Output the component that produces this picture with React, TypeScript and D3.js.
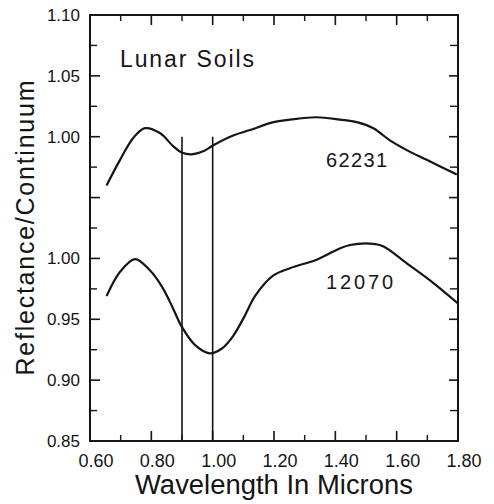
import React from "react";
import * as d3 from "d3";

// Sample 62231 (upper curve, plotted with +0.10 offset)
const wl62231 = [0.654, 0.698, 0.741, 0.779, 0.828, 0.872, 0.899, 0.932, 0.969, 1.002, 1.067, 1.122, 1.198, 1.252, 1.339, 1.415, 1.47, 1.524, 1.578, 1.633, 1.698, 1.796];
const refl62231 = [0.96, 0.981, 0.999, 1.007, 1.003, 0.992, 0.987, 0.9855, 0.988, 0.993, 1.001, 1.0055, 1.012, 1.014, 1.016, 1.014, 1.012, 1.007, 0.997, 0.989, 0.981, 0.969];
const offset62231 = 0.1;

// Sample 12070 (lower curve)
const wl12070 = [0.654, 0.698, 0.747, 0.796, 0.834, 0.867, 0.899, 0.942, 0.991, 1.03, 1.066, 1.105, 1.138, 1.198, 1.252, 1.339, 1.404, 1.448, 1.524, 1.556, 1.633, 1.719, 1.8];
const refl12070 = [0.969, 0.989, 0.9995, 0.99, 0.977, 0.961, 0.944, 0.929, 0.922, 0.926, 0.936, 0.953, 0.969, 0.986, 0.992, 0.999, 1.007, 1.011, 1.012, 1.01, 0.996, 0.98, 0.963];

// Band markers
const bandLines = [0.9, 1.0];

// Axis ticks
const xTickValues = [0.6, 0.8, 1.0, 1.2, 1.4, 1.6, 1.8];
const xTickLabels = ["0.60", "0.80", "1.00", "1.20", "1.40", "1.60", "1.80"];
const xMinorTicks = [0.7, 0.9, 1.1, 1.3, 1.5, 1.7];
const yTickValues = [0.85, 0.9, 0.95, 1.0, 1.05, 1.1, 1.15, 1.2];
const yTickLabels = ["0.85", "0.90", "0.95", "1.00", "", "1.00", "1.05", "1.10"];
const yMinorTicks = [0.875, 0.925, 0.975, 1.025, 1.075, 1.125, 1.175];

const W = 494;
const H = 504;
const L = 90, R = 458, T = 15, B = 441;
const ink = "#151515";
const font = "'Liberation Sans', Arial, Helvetica, sans-serif";

export default function App() {
  const x = d3.scaleLinear().domain([0.6, 1.8]).range([L, R]);
  const y = d3.scaleLinear().domain([0.85, 1.2]).range([B, T]);
  const line = d3
    .line<[number, number]>()
    .x((d) => x(d[0]))
    .y((d) => y(d[1]))
    .curve(d3.curveCatmullRom.alpha(0.5));

  const upper = line(wl62231.map((w, i) => [w, refl62231[i] + offset62231] as [number, number])) || "";
  const lower = line(wl12070.map((w, i) => [w, refl12070[i]] as [number, number])) || "";

  return (
    <svg
      width={W}
      height={H}
      viewBox={`0 0 ${W} ${H}`}
      style={{ position: "absolute", left: 0, top: 0, background: "#fff" }}
    >
      <rect x={0} y={0} width={W} height={H} fill="#fff" />
      {/* frame */}
      <rect x={L} y={T} width={R - L} height={B - T} fill="none" stroke={ink} strokeWidth={2} />

      {/* y ticks left & right */}
      {yTickValues.map((v, i) => (
        <g key={"yt" + i}>
          <line x1={L} x2={L + 10} y1={y(v)} y2={y(v)} stroke={ink} strokeWidth={1.6} />
          <line x1={R} x2={R - 9} y1={y(v)} y2={y(v)} stroke={ink} strokeWidth={1.6} />
          <text
            x={80}
            y={y(v)}
            dy="0.35em"
            textAnchor="end"
            fontFamily={font}
            fontSize={17}
            fill={ink}
          >
            {yTickLabels[i]}
          </text>
        </g>
      ))}
      {yMinorTicks.map((v, i) => (
        <g key={"ym" + i}>
          <line x1={L} x2={L + 7} y1={y(v)} y2={y(v)} stroke={ink} strokeWidth={1.4} />
          <line x1={R} x2={R - 8} y1={y(v)} y2={y(v)} stroke={ink} strokeWidth={1.4} />
        </g>
      ))}

      {/* x ticks bottom & top */}
      {xTickValues.map((v, i) => (
        <g key={"xt" + i}>
          <line x1={x(v)} x2={x(v)} y1={B} y2={B - 10} stroke={ink} strokeWidth={1.6} />
          <line x1={x(v)} x2={x(v)} y1={T} y2={T + 10} stroke={ink} strokeWidth={1.6} />
          <text
            x={x(v) + 6}
            y={467}
            textAnchor="middle"
            fontFamily={font}
            fontSize={18}
            fill={ink}
          >
            {xTickLabels[i]}
          </text>
        </g>
      ))}
      {xMinorTicks.map((v, i) => (
        <g key={"xm" + i}>
          <line x1={x(v)} x2={x(v)} y1={B} y2={B - 6} stroke={ink} strokeWidth={1.4} />
          <line x1={x(v)} x2={x(v)} y1={T} y2={T + 6} stroke={ink} strokeWidth={1.4} />
        </g>
      ))}

      {/* band lines */}
      {bandLines.map((v, i) => (
        <line
          key={"bl" + i}
          x1={x(v)}
          x2={x(v)}
          y1={y(1.1)}
          y2={B}
          stroke={ink}
          strokeWidth={1.6}
        />
      ))}

      {/* curves */}
      <path d={upper} fill="none" stroke={ink} strokeWidth={2.2} strokeLinejoin="round" />
      <path d={lower} fill="none" stroke={ink} strokeWidth={2.2} strokeLinejoin="round" />

      {/* labels */}
      <text x={120} y={67} fontFamily={font} fontSize={23} fill={ink} textLength={134} lengthAdjust="spacing">
        Lunar Soils
      </text>
      <text x={326} y={167} fontFamily={font} fontSize={20} fill={ink} textLength={61} lengthAdjust="spacing">
        62231
      </text>
      <text x={326} y={289} fontFamily={font} fontSize={20} fill={ink} textLength={67} lengthAdjust="spacing">
        12070
      </text>

      {/* axis titles */}
      <text
        x={274}
        y={494}
        textAnchor="middle"
        fontFamily={font}
        fontSize={27}
        fill={ink}
        textLength={278}
        lengthAdjust="spacingAndGlyphs"
      >
        Wavelength In Microns
      </text>
      <text
        transform={`translate(34, 228) rotate(-90)`}
        textAnchor="middle"
        fontFamily={font}
        fontSize={25}
        fill={ink}
        textLength={295}
        lengthAdjust="spacing"
      >
        Reflectance/Continuum
      </text>
    </svg>
  );
}
